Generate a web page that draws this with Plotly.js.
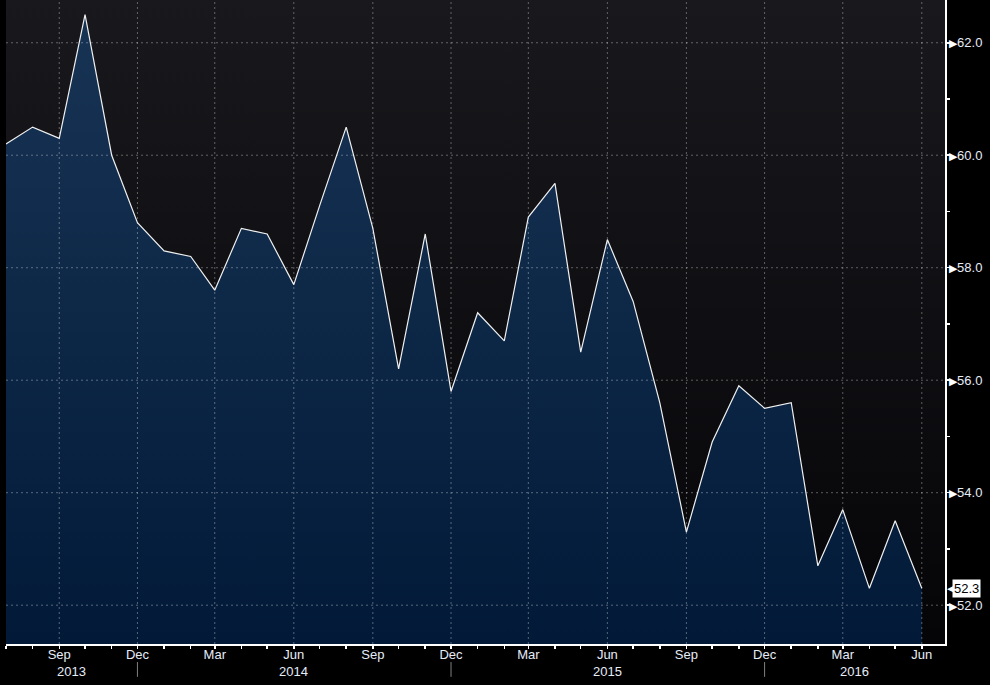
<!DOCTYPE html>
<html><head><meta charset="utf-8">
<script src="https://cdn.plot.ly/plotly-3.0.1.min.js"></script>
<style>
html,body{margin:0;padding:0;background:#000;}
#wrap{position:relative;width:990px;height:685px;overflow:hidden;}
#bg{position:absolute;left:6px;top:0;width:939px;height:644px;background:linear-gradient(#19191d,#050508);}
#chart{position:absolute;left:0;top:0;width:990px;height:685px;}
</style></head><body>
<div id="wrap"><div id="bg"></div><div id="chart"></div></div>
<script>
const months = ['2013-07-01','2013-08-01','2013-09-01','2013-10-01','2013-11-01','2013-12-01',
  '2014-01-01','2014-02-01','2014-03-01','2014-04-01','2014-05-01','2014-06-01',
  '2014-07-01','2014-08-01','2014-09-01','2014-10-01','2014-11-01','2014-12-01',
  '2015-01-01','2015-02-01','2015-03-01','2015-04-01','2015-05-01','2015-06-01',
  '2015-07-01','2015-08-01','2015-09-01','2015-10-01','2015-11-01','2015-12-01',
  '2016-01-01','2016-02-01','2016-03-01','2016-04-01','2016-05-01','2016-06-01'];
const values = [60.2,60.5,60.3,62.5,60.0,58.8,
  58.3,58.2,57.6,58.7,58.6,57.7,
  59.1,60.5,58.7,56.2,58.6,55.8,
  57.2,56.7,58.9,59.5,56.5,58.5,
  57.4,55.6,53.3,54.9,55.9,55.5,
  55.6,52.7,53.7,52.3,53.5,52.3];
const yTickVals = [52,54,56,58,60,62];
const yTickText = ['52.0','54.0','56.0','58.0','60.0','62.0'];
const xTickVals = ['2013-09-01','2013-12-01','2014-03-01','2014-06-01','2014-09-01','2014-12-01',
  '2015-03-01','2015-06-01','2015-09-01','2015-12-01','2016-03-01','2016-06-01'];
const xTickText = ['Sep','Dec','Mar','Jun','Sep','Dec','Mar','Jun','Sep','Dec','Mar','Jun'];
const yearLabels = ['2013','2014','2015','2016'];
const yearSeparators = ['2013-12-01','2014-12-01','2015-12-01'];

const xRange = ['2013-07-01','2016-06-28'];
const yRange = [51.31, 62.76];
const font = 'Liberation Sans, Arial, sans-serif';
const labelColor = '#e6ecf8';

// year label centres: midpoints of the segments between separators
const bounds = [xRange[0]].concat(yearSeparators, [xRange[1]]).map(d => new Date(d + 'T00:00:00Z').getTime());
const yearPos = yearLabels.map((_, i) => new Date((bounds[i] + bounds[i+1]) / 2).toISOString().slice(0,10));

const shapes = [];
yTickVals.forEach(v => shapes.push({type:'line', layer:'above', xref:'paper', x0:0, x1:1, yref:'y', y0:v, y1:v,
  line:{color:'rgba(255,255,255,0.33)', width:1, dash:'2px,3px'}}));
xTickVals.forEach(d => shapes.push({type:'line', layer:'above', xref:'x', x0:d, x1:d, yref:'paper', y0:0, y1:1,
  line:{color:'rgba(255,255,255,0.33)', width:1, dash:'2px,3px'}}));
yearSeparators.forEach(d => shapes.push({type:'line', xref:'x', x0:d, x1:d, yref:'paper', y0:-0.028, y1:-0.051,
  line:{color:'#808080', width:1}}));

const annotations = yearLabels.map((t, i) => ({xref:'x', x:yearPos[i], yref:'paper', y:-0.042, yanchor:'middle',
  text:t, showarrow:false, font:{family:font, size:13, color:labelColor}}));
const last = values[values.length - 1];
annotations.push({xref:'paper', x:1, xanchor:'left', xshift:0, yref:'y', y:last, yanchor:'middle',
  text:'◀', showarrow:false, font:{family:'DejaVu Sans', size:11, color:'#ffffff'}});
annotations.push({xref:'paper', x:1, xanchor:'left', xshift:7, yref:'y', y:last, yanchor:'middle',
  text:last.toFixed(1), showarrow:false, bgcolor:'#ffffff', borderpad:1,
  font:{family:font, size:13, color:'#000000'}});

const trace = {
  x: months, y: values, type:'scatter', mode:'lines',
  line:{color:'#f0f0f0', width:1.2},
  fill:'tozeroy',
  fillgradient:{type:'vertical', start:yRange[0], stop:yRange[1],
    colorscale:[[0,'#021a38'],[1,'#183455']]},
  hoverinfo:'skip'
};

const layout = {
  width:990, height:685,
  margin:{l:6, r:45, t:0, b:41, pad:0},
  paper_bgcolor:'rgba(0,0,0,0)', plot_bgcolor:'rgba(0,0,0,0)',
  showlegend:false,
  xaxis:{type:'date', range:xRange, tickvals:xTickVals, ticktext:xTickText,
    ticks:'outside', ticklen:3, tickwidth:1.5, tickcolor:'#ffffff', ticklabelstandoff:-5,
    minor:{dtick:'M1', ticks:'outside', ticklen:3, tickwidth:1.5, tickcolor:'#ffffff', showgrid:false},
    showline:true, linecolor:'#ffffff', linewidth:1.5, showgrid:false, zeroline:false,
    tickfont:{family:font, size:13, color:labelColor}, fixedrange:true},
  yaxis:{side:'right', range:yRange, tickvals:yTickVals,
    ticktext:yTickText.map(t => '<span style="color:#ffffff;font-size:11px">▶</span>' + t),
    ticks:'outside', ticklen:0, tickcolor:'#ffffff',
    minor:{dtick:1, ticks:'outside', ticklen:3, tickwidth:1.5, tickcolor:'#ffffff', showgrid:false},
    showline:true, linecolor:'#ffffff', linewidth:1.5, showgrid:false, zeroline:false,
    tickfont:{family:font, size:13, color:labelColor}, fixedrange:true},
  shapes:shapes,
  annotations:annotations
};
Plotly.newPlot('chart', [trace], layout, {displayModeBar:false, staticPlot:true});
</script>
</body></html>
